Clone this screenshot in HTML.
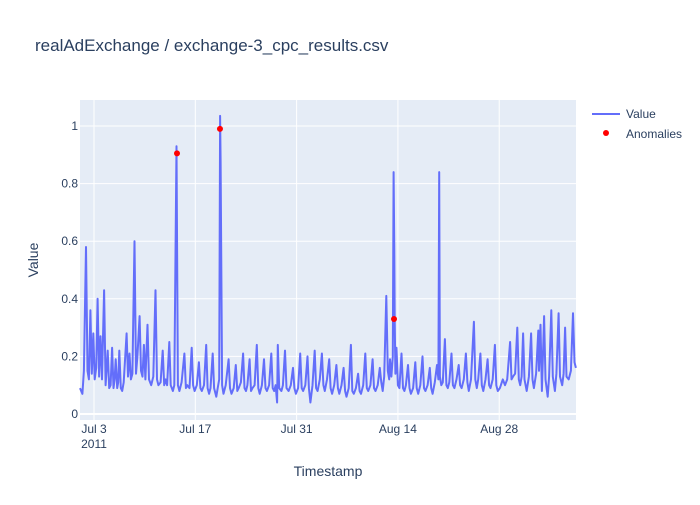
<!DOCTYPE html>
<html><head><meta charset="utf-8"><style>
body{margin:0;background:#fff;font-family:"Liberation Sans",Arial,sans-serif}
svg text{font-family:"Liberation Sans",Arial,sans-serif;fill:#2a3f5f}
</style></head><body>
<svg id="chart" width="700" height="500">
<rect width="700" height="500" fill="#fff"/>
<text x="35" y="51" font-size="17">realAdExchange / exchange-3_cpc_results.csv</text>
<rect x="80" y="100" width="496" height="320" fill="#e5ecf6"/>
<g id="grid"></g><g id="series"></g><g id="axes"></g>
<text x="328" y="476" font-size="14" text-anchor="middle">Timestamp</text>
<text transform="translate(38,260) rotate(-90)" font-size="14" text-anchor="middle">Value</text>
<g>
<g><line x1="592" y1="114" x2="620" y2="114" stroke="#636efa" stroke-width="2"/><text x="626" y="118" font-size="12">Value</text></g>
<g><circle cx="606" cy="133" r="3" fill="red"/><text x="626" y="138" font-size="12">Anomalies</text></g>
</g>
</svg>
<script>
const days=[0.07,0.4,0.6,0.9,1.1,1.3,1.5,1.7,1.9,2.1,2.3,2.5,2.7,2.9,3.1,3.4,3.6,3.75,3.9,4.1,4.3,4.5,4.7,4.85,5.0,5.2,5.35,5.5,5.7,5.9,6.1,6.5,6.7,6.9,7.1,7.3,7.6,7.8,8.0,8.3,8.5,8.7,8.9,9.1,9.4,9.6,9.9,10.2,10.5,10.7,10.9,11.2,11.5,11.7,11.9,12.1,12.4,12.6,12.9,13.1,13.4,13.6,13.8,14.1,14.5,14.7,14.9,15.2,15.5,15.7,15.9,16.2,16.5,16.7,16.9,17.2,17.5,17.7,17.9,18.1,18.4,18.6,18.9,19.1,19.3,19.42,19.5,19.7,19.9,20.2,20.6,20.8,21.0,21.3,21.6,21.8,22.0,22.3,22.6,22.8,23.0,23.2,23.5,23.7,23.9,24.2,24.5,24.7,24.9,25.2,25.5,25.7,25.9,26.2,26.5,26.7,26.9,27.1,27.3,27.4,27.6,27.9,28.1,28.4,28.6,28.9,29.2,29.5,29.7,29.9,30.2,30.5,30.7,30.9,31.2,31.5,31.7,31.9,32.2,32.5,32.7,32.9,33.2,33.5,33.7,33.9,34.2,34.5,34.7,34.9,35.2,35.5,35.7,35.9,36.2,36.5,36.7,36.9,37.2,37.5,37.7,37.9,38.2,38.5,38.7,38.9,39.2,39.5,39.7,39.9,40.2,40.5,40.7,40.9,41.2,41.5,41.7,41.9,42.1,42.4,42.6,42.8,42.9,43.1,43.3,43.4,43.5,43.55,43.65,43.8,44.0,44.2,44.5,44.7,44.9,45.1,45.4,45.6,45.8,46.1,46.4,46.6,46.8,47.1,47.4,47.6,47.8,48.1,48.4,48.6,48.8,49.1,49.4,49.6,49.7,49.8,50.0,50.2,50.5,50.7,50.9,51.1,51.4,51.6,51.8,52.1,52.4,52.6,52.8,53.1,53.4,53.6,53.8,54.1,54.5,54.7,54.9,55.1,55.4,55.6,55.8,56.1,56.4,56.6,56.8,57.1,57.4,57.6,57.8,58.1,58.5,58.8,59.1,59.5,59.7,59.9,60.2,60.5,60.7,60.9,61.1,61.3,61.5,61.8,62.1,62.4,62.6,62.8,63.1,63.4,63.5,63.7,63.9,64.2,64.4,64.7,64.9,65.2,65.4,65.7,65.9,66.2,66.4,66.7,66.9,67.1,67.3,67.6,67.9,68.2,68.4,68.6];
const values=[.09,.07,.15,.58,.15,.12,.36,.14,.28,.12,.16,.40,.13,.27,.12,.43,.10,.16,.22,.09,.10,.23,.09,.12,.19,.09,.11,.22,.09,.08,.11,.28,.13,.21,.12,.14,.60,.14,.20,.34,.15,.13,.24,.12,.31,.12,.10,.13,.43,.12,.10,.11,.22,.10,.12,.10,.25,.10,.08,.10,.93,.10,.08,.11,.21,.09,.10,.09,.23,.10,.08,.10,.18,.09,.08,.10,.24,.09,.07,.09,.21,.09,.06,.09,.12,1.035,.88,.10,.07,.10,.19,.09,.07,.09,.17,.08,.09,.11,.21,.09,.08,.10,.19,.08,.09,.10,.24,.09,.07,.10,.19,.09,.08,.10,.21,.09,.08,.10,.04,.24,.09,.08,.10,.22,.09,.08,.10,.16,.09,.07,.09,.21,.09,.08,.10,.20,.09,.04,.10,.22,.09,.08,.12,.21,.10,.08,.12,.19,.09,.07,.10,.17,.09,.07,.10,.16,.08,.06,.09,.24,.08,.07,.09,.14,.08,.07,.10,.21,.09,.08,.10,.19,.09,.08,.10,.16,.11,.08,.13,.41,.15,.12,.19,.13,.20,.84,.57,.33,.14,.23,.10,.09,.21,.09,.08,.10,.17,.09,.07,.09,.18,.09,.07,.10,.20,.09,.08,.10,.16,.09,.07,.11,.17,.12,.84,.13,.10,.11,.26,.10,.09,.11,.21,.10,.09,.12,.17,.10,.09,.12,.21,.11,.08,.12,.32,.12,.09,.12,.21,.10,.08,.12,.19,.10,.09,.12,.24,.10,.08,.09,.12,.10,.12,.25,.12,.13,.14,.30,.12,.10,.13,.28,.12,.08,.13,.28,.12,.09,.14,.29,.15,.31,.08,.34,.12,.06,.13,.36,.13,.08,.14,.35,.13,.10,.14,.30,.13,.12,.15,.35,.18,.16];
const anomalyDays=[13.47,19.41,43.46];
const anomalyValues=[0.905,0.99,0.33];
const yTicks=[0,0.2,0.4,0.6,0.8,1];
const yTickLabels=["0","0.2","0.4","0.6","0.8","1"];
const xTickDays=[2,16,30,44,58];
const xTickLabels=["Jul 3","Jul 17","Jul 31","Aug 14","Aug 28"];

const NS="http://www.w3.org/2000/svg";
const X=d=>94+7.236*(d-2);
const Y=v=>414-288*v;
function mk(tag,attrs,parent){const e=document.createElementNS(NS,tag);for(const k in attrs)e.setAttribute(k,attrs[k]);parent.appendChild(e);return e;}
const grid=document.getElementById('grid'),axes=document.getElementById('axes'),series=document.getElementById('series');
xTickDays.forEach((d,i)=>{
  const l=mk('line',{x1:X(d),x2:X(d),y1:100,y2:420,stroke:'#fff','stroke-width':1},grid);
  
  
  const t=mk('text',{x:X(d),y:433,'font-size':12,'text-anchor':'middle'},axes);
  t.textContent=xTickLabels[i];
  
  
});
const yr=mk('text',{x:X(2),y:448,'font-size':12,'text-anchor':'middle'},axes);
yr.textContent='2011';


yTicks.forEach((v,i)=>{
  const l=mk('line',{x1:80,x2:576,y1:Y(v),y2:Y(v),stroke:'#fff','stroke-width':v===0?2:1},grid);
  
  
  const t=mk('text',{x:78,y:Y(v)+4,'font-size':12,'text-anchor':'end'},axes);
  t.textContent=yTickLabels[i];
  
  
});
const pts=days.map((d,i)=>X(d).toFixed(1)+','+Y(values[i]).toFixed(1)).join(' ');
const pl=mk('polyline',{points:pts,fill:'none',stroke:'#636efa','stroke-width':2,'stroke-linejoin':'round'},series);


anomalyDays.forEach((d,i)=>{
  const c=mk('circle',{cx:X(d),cy:Y(anomalyValues[i]),r:3,fill:'red'},series);
  
  
});
</script>
</body></html>
